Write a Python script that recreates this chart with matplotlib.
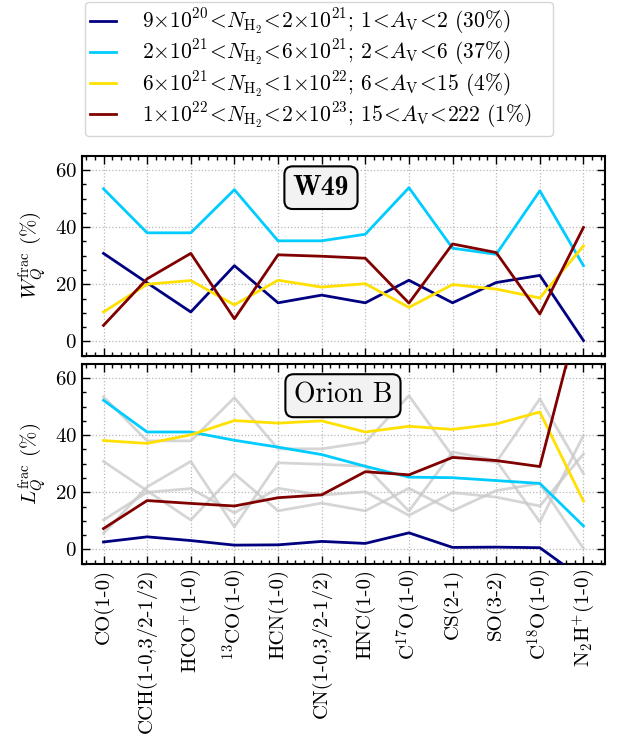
import matplotlib
matplotlib.use("Agg")
import matplotlib.pyplot as plt
from matplotlib.ticker import MultipleLocator, AutoMinorLocator
import numpy as np

plt.rcParams['font.family'] = 'serif'
plt.rcParams['font.serif'] = ['cmr10']
plt.rcParams['mathtext.fontset'] = 'cm'
plt.rcParams['axes.formatter.use_mathtext'] = True
plt.rcParams['axes.unicode_minus'] = False

lines = ['CO(1-0)', 'CCH(1-0,3/2-1/2)', r'HCO$^{+}$(1-0)', r'$^{13}$CO(1-0)',
         'HCN(1-0)', 'CN(1-0,3/2-1/2)', 'HNC(1-0)', r'C$^{17}$O(1-0)',
         'CS(2-1)', 'SO(3-2)', r'C$^{18}$O(1-0)', r'N$_2$H$^{+}$(1-0)']

labels = [
    r'$9{\times}10^{20}\!<\!N_{\rm H_2}\!<\!2{\times}10^{21}$; $1\!<\!A_{\rm V}\!<\!2$ (30%)',
    r'$2{\times}10^{21}\!<\!N_{\rm H_2}\!<\!6{\times}10^{21}$; $2\!<\!A_{\rm V}\!<\!6$ (37%)',
    r'$6{\times}10^{21}\!<\!N_{\rm H_2}\!<\!1{\times}10^{22}$; $6\!<\!A_{\rm V}\!<\!15$ (4%)',
    r'$1{\times}10^{22}\!<\!N_{\rm H_2}\!<\!2{\times}10^{23}$; $15\!<\!A_{\rm V}\!<\!222$ (1%)',
]
colors = ['#000080', '#00ccff', '#ffe000', '#800000']

# W49 fractions (%)
w49_low = [30.8, 20.5, 10.3, 26.5, 13.5, 16.2, 13.5, 21.4, 13.5, 20.6, 23.1, 0.3]
w49_mid = [53.4, 38.0, 38.0, 53.1, 35.2, 35.2, 37.5, 53.8, 32.6, 30.5, 52.7, 26.5]
w49_high = [10.3, 20.0, 21.3, 12.8, 21.4, 19.0, 20.2, 11.9, 19.9, 18.3, 15.2, 33.4]
w49_dense = [5.6, 21.9, 30.8, 7.9, 30.3, 29.8, 29.1, 13.4, 34.1, 31.1, 9.6, 39.9]

# Orion B fractions (%)
orb_low = [2.6, 4.4, 3.1, 1.5, 1.6, 2.8, 2.1, 5.8, 0.7, 0.8, 0.6, -10.4]
orb_mid = [52.2, 41.1, 41.1, 38.2, 35.8, 33.2, 29.1, 25.3, 25.1, 24.1, 23.1, 8.2]
orb_high = [38.1, 37.1, 40.1, 45.1, 44.2, 45.0, 41.1, 43.1, 42.0, 43.9, 48.1, 16.9]
orb_dense = [7.3, 17.1, 16.1, 15.2, 18.1, 19.1, 27.2, 26.1, 32.2, 31.1, 29.0, 88.0]

w49 = [w49_low, w49_mid, w49_high, w49_dense]
orb = [orb_low, orb_mid, orb_high, orb_dense]

fig = plt.figure(figsize=(6.17, 7.51), dpi=100)
ax1 = fig.add_axes([0.1324, 0.5264, 0.8486, 0.2663])
ax2 = fig.add_axes([0.1324, 0.2494, 0.8486, 0.2663])

x = np.arange(len(lines))
lw = 2.0
for ys, c, lab in zip(w49, colors, labels):
    ax1.plot(x, ys, color=c, lw=lw, label=lab, zorder=3)
for ys in w49:
    ax2.plot(x, ys, color='#c8c8c8', lw=lw, alpha=0.75, zorder=2)
for ys, c in zip(orb, colors):
    ax2.plot(x, ys, color=c, lw=lw, zorder=3)

for ax in (ax1, ax2):
    ax.set_xlim(-0.5, 11.5)
    ax.set_ylim(-5, 65)
    ax.set_xticks(x)
    ax.yaxis.set_major_locator(MultipleLocator(20))
    ax.yaxis.set_minor_locator(MultipleLocator(5))
    ax.xaxis.set_minor_locator(AutoMinorLocator(5))
    ax.tick_params(which='both', direction='in', top=True, right=True, width=1.0)
    ax.tick_params(which='major', length=6, labelsize=15)
    ax.tick_params(which='minor', length=3)
    ax.grid(True, which='major', ls=':', color='#b8b8b8', lw=0.9)
    for sp in ax.spines.values():
        sp.set_linewidth(1.5)

ax1.set_xticklabels([])
ax2.set_xticklabels(lines, rotation=90)
ax1.set_ylabel(r'$W_Q^{\rm frac}$ (%)', fontsize=15)
ax2.set_ylabel(r'$L_Q^{\rm frac}$ (%)', fontsize=15)

bbox = dict(boxstyle='round,pad=0.3', fc='#f2f2f2', ec='black', lw=1.5)
ax1.text(0.457, 0.84, 'W49', transform=ax1.transAxes, ha='center', va='center',
         fontsize=20, family='cmb10', bbox=bbox, zorder=5)
ax2.text(0.499, 0.84, 'Orion B', transform=ax2.transAxes, ha='center', va='center',
         fontsize=20, bbox=bbox, zorder=5)

h, l = ax1.get_legend_handles_labels()
x0 = 85 / 617
w = (553 - 85) / 617
fig.legend(h, l, loc='upper left', bbox_to_anchor=(x0, 1 - 140/751, w, 138/751),
           mode='expand', borderaxespad=0, fontsize=15.5, handlelength=1.2,
           handletextpad=1.2, labelspacing=0.05, borderpad=0.25, frameon=True,
           fancybox=True, edgecolor='#cccccc')

fig.savefig('out.png', dpi=100)
